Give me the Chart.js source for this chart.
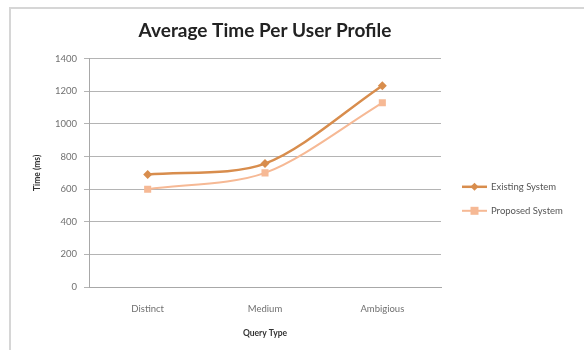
<!DOCTYPE html>
<html>
<head>
<meta charset="utf-8">
<script src="https://cdn.jsdelivr.net/npm/chart.js@4/dist/chart.umd.min.js"></script>
<style>
  body { margin: 0; background: #fff; }
  .frame { position: absolute; left: 9px; top: 7px; width: 620px; height: 400px; border: 2px solid #d6d6d6; }
  .wrap { position: absolute; left: 0; top: 0; width: 584px; height: 350px; }
</style>
</head>
<body>
<div class="frame"></div>
<div class="wrap"><canvas id="chart" width="584" height="350"></canvas></div>
<script>
var categories = ["Distinct", "Medium", "Ambigious"]
var existingSystem = [690, 757, 1235]
var proposedSystem = [600, 700, 1130]
var yTicks = [0, 200, 400, 600, 800, 1000, 1200, 1400]

var existingColor = "#d88d4d"
var proposedColor = "#f6b995"

// legend like excel: small line with the marker on it
var sideLegend = {
  id: "sideLegend",
  afterDraw: function (chart) {
    var ctx = chart.ctx
    var area = chart.chartArea
    var x = area.right + 21
    var y0 = area.top + 128
    chart.data.datasets.forEach(function (ds, i) {
      var y = y0 + i * 24
      ctx.save()
      ctx.strokeStyle = ds.borderColor
      ctx.lineWidth = ds.borderWidth
      ctx.beginPath()
      ctx.moveTo(x, y)
      ctx.lineTo(x + 25, y)
      ctx.stroke()
      ctx.fillStyle = ds.pointBackgroundColor
      ctx.beginPath()
      if (ds.pointStyle === "rectRot") {
        ctx.moveTo(x + 12.5, y - 4)
        ctx.lineTo(x + 16.5, y)
        ctx.lineTo(x + 12.5, y + 4)
        ctx.lineTo(x + 8.5, y)
      } else {
        ctx.rect(x + 8.5, y - 4, 8, 8)
      }
      ctx.fill()
      ctx.fillStyle = "#555"
      ctx.font = "9.5px Lato"
      ctx.textBaseline = "middle"
      ctx.fillText(ds.label, x + 29, y)
      ctx.restore()
    })
  },
}

new Chart(document.getElementById("chart"), {
  type: "line",
  plugins: [sideLegend],
  data: {
    labels: categories,
    datasets: [
      {
        label: "Existing System",
        data: existingSystem,
        borderColor: existingColor,
        backgroundColor: existingColor,
        pointBackgroundColor: existingColor,
        pointBorderWidth: 0,
        borderWidth: 2.5,
        pointStyle: "rectRot",
        pointRadius: 4.5,
        tension: 0.3,
      },
      {
        label: "Proposed System",
        data: proposedSystem,
        borderColor: proposedColor,
        backgroundColor: proposedColor,
        pointBackgroundColor: proposedColor,
        pointBorderWidth: 0,
        borderWidth: 2,
        pointStyle: "rect",
        pointRadius: 5,
        tension: 0.3,
      },
    ],
  },
  options: {
    responsive: false,
    animation: false,
    layout: { padding: { left: 28, right: 143, top: 10, bottom: 8 } },
    plugins: {
      legend: { display: false },
      tooltip: { enabled: false },
      title: {
        display: true,
        fullSize: false,
        text: "Average Time Per User Profile",
        color: "#222",
        font: { family: "Lato", size: 19, weight: "bold" },
        padding: { top: 9, bottom: 17 },
      },
    },
    scales: {
      x: {
        offset: true,
        afterFit: function (s) { s.height = 55 },
        grid: { display: false, drawTicks: false },
        border: { color: "#a8a8a8", width: 1 },
        ticks: { color: "#707070", padding: 16, font: { family: "Lato", size: 9.5 } },
        title: {
          display: true,
          text: "Query Type",
          color: "#333",
          font: { family: "Lato", size: 8.5, weight: "bold" },
          padding: { top: 4, bottom: 4 },
        },
      },
      y: {
        min: 0,
        max: 1400,
        afterFit: function (s) { s.width = 61 },
        afterBuildTicks: function (s) { s.ticks = yTicks.map(function (v) { return { value: v } }) },
        grid: { color: "#b4b4b4", tickLength: 5 },
        border: { color: "#a8a8a8", width: 1 },
        ticks: {
          color: "#707070",
          padding: 7,
          font: { family: "Lato", size: 9.5 },
          callback: function (v) { return String(v) },
        },
        title: {
          display: true,
          text: "Time (ms)",
          color: "#333",
          font: { family: "Lato", size: 8.5, weight: "bold" },
          padding: { top: 4, bottom: 4 },
        },
      },
    },
  },
})
</script>
</body>
</html>
